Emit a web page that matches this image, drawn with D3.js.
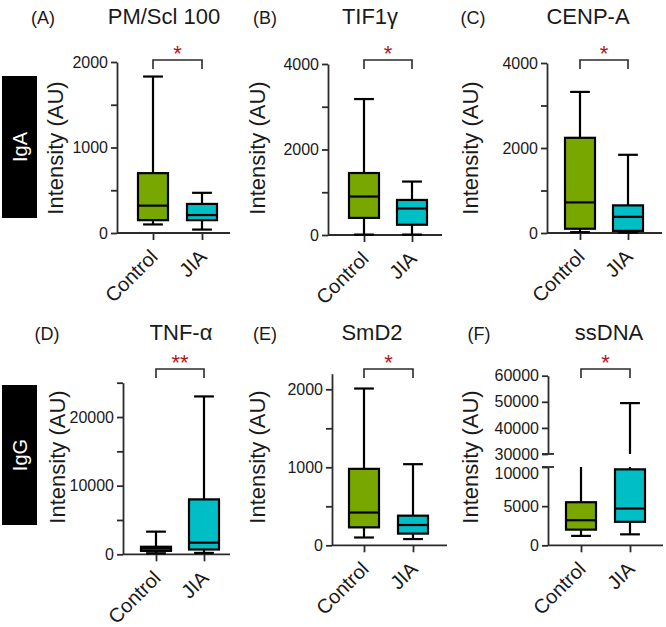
<!DOCTYPE html>
<html><head><meta charset="utf-8">
<script src="https://cdn.jsdelivr.net/npm/d3@7"></script>
<style>
body{margin:0;background:#fff}
svg{display:block}
text{font-family:"Liberation Sans",Arial,Helvetica,sans-serif}
</style>
</head><body>
<svg id="c" width="666" height="627"></svg>
<script>
// ---------------- DATA ----------------
const titles = ["PM/Scl 100", "TIF1γ", "CENP-A", "TNF-α", "SmD2", "ssDNA"];
const panelLetters = ["(A)", "(B)", "(C)", "(D)", "(E)", "(F)"];
const isotypes = ["IgA", "IgG"];
const categories = ["Control", "JIA"];
const yAxisTitle = "Intensity (AU)";
// [min, q1, median, q3, max]
const controlStats = [
  [100, 150, 320, 700, 1830],
  [10, 400, 900, 1450, 3180],
  [20, 100, 720, 2240, 3320],
  [150, 500, 850, 1100, 3300],
  [100, 230, 420, 980, 2010],
  [1200, 2000, 3200, 5500, 12000]
];
const jiaStats = [
  [40, 150, 210, 340, 470],
  [10, 240, 620, 820, 1250],
  [10, 50, 380, 650, 1840],
  [200, 700, 1700, 8000, 23000],
  [80, 150, 260, 380, 1040],
  [1400, 3000, 4700, 9700, 49500]
];
const significance = ["*", "*", "*", "**", "*", "*"];
const yDomainMax = [2000, 4000, 4000, 25000, 2200, 60000];
const majorTicks = [
  [0, 1000, 2000],
  [0, 2000, 4000],
  [0, 2000, 4000],
  [0, 10000, 20000],
  [0, 1000, 2000],
  [0, 5000, 10000, 30000, 40000, 50000, 60000]
];
const minorTicks = [
  [500, 1500],
  [1000, 3000],
  [1000, 3000],
  [5000, 15000, 25000],
  [500, 1500],
  []
];
const brokenLowerDomain = [0, 10000];
const brokenUpperDomain = [30000, 60000];

// ---------------- LAYOUT ----------------
const layout = [
  {ax:117, top:62,    bot:233,   c:[153,202], xEnd:230, tx:164, lx:43,  yx:57},
  {ax:328, top:64,    bot:235,   c:[364,412], xEnd:442, tx:370, lx:265, yx:259},
  {ax:547, top:63,    bot:233,   c:[580,628], xEnd:662, tx:588, lx:473, yx:472},
  {ax:123, top:382.7, bot:554.3, c:[156,204], xEnd:230, tx:181, lx:47,  yx:59},
  {ax:332, top:373.7, bot:545.3, c:[364,413], xEnd:447, tx:372, lx:265, yx:259},
  {ax:548, top:375.7, bot:545.3, c:[581,630], xEnd:663, tx:609, lx:479, yx:472}
];
const rowTitleY = [24, 340];
const rowStarY = [48, 357];
const rowBracketY = [60, 369];
const rowYLabelY = [148, 457];
const badges = [{y0:76, y1:218}, {y0:385, y1:525}];
const boxColors = ["#78a800", "#00bec6"];
const axisColor = "#2b2b2b";
const textColor = "#1a1a1a";
const starColor = "#b3141c";
const boxW = 30;

const svg = d3.select("#c");

// Isotype badges
isotypes.forEach((t, i) => {
  const b = badges[i];
  svg.append("rect").attr("x", 2).attr("y", b.y0).attr("width", 35).attr("height", b.y1 - b.y0).attr("fill", "#000");
  svg.append("text")
    .attr("transform", `translate(${2 + 35/2},${(b.y0 + b.y1)/2}) rotate(-90)`)
    .attr("y", 7).attr("text-anchor", "middle")
    .attr("fill", "#fff").attr("font-size", 20).text(t);
});

function styleAxis(g) {
  g.selectAll("path.domain").attr("stroke", axisColor).attr("stroke-width", 1.8);
  g.selectAll(".tick line").attr("stroke", axisColor).attr("stroke-width", 1.8);
  g.selectAll(".tick text").attr("fill", textColor).attr("font-size", 16)
    .attr("font-family", '"Liberation Sans",Arial,sans-serif');
}

titles.forEach((title, i) => {
  const L = layout[i];
  const row = i < 3 ? 0 : 1;
  const g = svg.append("g");
  const x = d3.scalePoint().domain(categories).range(L.c);

  // y mapping (piecewise for broken axis)
  let segs;
  if (i === 5) {
    const yLow = d3.scaleLinear().domain(brokenLowerDomain).range([L.bot, 467]);
    const yHigh = d3.scaleLinear().domain(brokenUpperDomain).range([454, L.top]);
    segs = [yLow, yHigh];
  } else {
    segs = [d3.scaleLinear().domain([0, yDomainMax[i]]).range([L.bot, L.top])];
  }

  // y axes
  segs.forEach((s, si) => {
    const [d0, d1] = s.domain();
    const maj = majorTicks[i].filter(v => v >= d0 && v <= d1);
    const mino = minorTicks[i].filter(v => v >= d0 && v <= d1);
    const ag = g.append("g").attr("transform", `translate(${L.ax},0)`)
      .call(d3.axisLeft(s).tickValues(maj).tickSize(6).tickSizeOuter(0).tickPadding(3).tickFormat(d3.format("d")));
    styleAxis(ag);
    if (i === 5 && si === 0) {
      // top label of the lower segment sits a little below its break mark
      ag.selectAll(".tick").filter(d => d === brokenLowerDomain[1]).select("text").attr("dy", "0.72em");
    }
    if (mino.length) {
      const mg = g.append("g").attr("transform", `translate(${L.ax},0)`)
        .call(d3.axisLeft(s).tickValues(mino).tickSize(6).tickSizeOuter(0).tickFormat(""));
      styleAxis(mg);
      mg.select("path.domain").remove();
    }
  });
  if (i === 5) {
    // break marks
    [[segs[0], brokenLowerDomain[1]], [segs[1], brokenUpperDomain[0]]].forEach(([s, v]) => {
      g.append("line").attr("x1", L.ax - 6).attr("x2", L.ax + 6)
        .attr("y1", s(v)).attr("y2", s(v)).attr("stroke", axisColor).attr("stroke-width", 1.8);
    });
  }

  // x axis
  g.append("line").attr("x1", L.ax).attr("x2", L.xEnd).attr("y1", L.bot).attr("y2", L.bot)
    .attr("stroke", axisColor).attr("stroke-width", 1.8);
  const xg = g.append("g").attr("transform", `translate(0,${L.bot})`)
    .call(d3.axisBottom(x).tickSize(7).tickFormat(""));
  xg.select("path.domain").remove();
  xg.selectAll(".tick line").attr("stroke", axisColor).attr("stroke-width", 1.8);
  categories.forEach(cat => {
    g.append("text")
      .attr("transform", `translate(${x(cat) + 6},${L.bot + 25}) rotate(-45)`)
      .attr("text-anchor", "end").attr("font-size", 20).attr("fill", textColor).text(cat);
  });

  // boxes
  const stats = [controlStats[i], jiaStats[i]];
  stats.forEach((st, k) => {
    const cx = x(categories[k]);
    const [mn, q1, md, q3, mx] = st;
    const drawV = (a, b) => {
      segs.forEach(s => {
        const [d0, d1] = s.domain();
        const lo = Math.max(Math.min(a, b), d0), hi = Math.min(Math.max(a, b), d1);
        if (hi > lo) g.append("line").attr("x1", cx).attr("x2", cx).attr("y1", s(lo)).attr("y2", s(hi))
          .attr("stroke", "#000").attr("stroke-width", 2.2);
      });
    };
    const yOf = v => { for (const s of segs) { const [d0, d1] = s.domain(); if (v >= d0 && v <= d1) return s(v); } return null; };
    drawV(mn, q1);
    drawV(q3, mx);
    [mn, mx].forEach(v => {
      const yy = yOf(v);
      if (yy !== null) g.append("line").attr("x1", cx - boxW * 0.33).attr("x2", cx + boxW * 0.33)
        .attr("y1", yy).attr("y2", yy).attr("stroke", "#000").attr("stroke-width", 2.2);
    });
    const yq1 = yOf(q1), yq3 = yOf(q3), ymd = yOf(md);
    g.append("rect").attr("x", cx - boxW / 2).attr("y", yq3).attr("width", boxW).attr("height", yq1 - yq3)
      .attr("fill", boxColors[k]).attr("stroke", "#000").attr("stroke-width", 2.2);
    g.append("line").attr("x1", cx - boxW / 2).attr("x2", cx + boxW / 2).attr("y1", ymd).attr("y2", ymd)
      .attr("stroke", "#000").attr("stroke-width", 2.2);
  });

  // significance bracket
  const by = rowBracketY[row];
  const x0 = x(categories[0]), x1 = x(categories[1]);
  g.append("path").attr("d", `M${x0},${by + 9}V${by}H${x1}V${by + 9}`)
    .attr("fill", "none").attr("stroke", axisColor).attr("stroke-width", 1.6);
  g.append("text").attr("x", (x0 + x1) / 2).attr("y", rowStarY[row] + 12.5)
    .attr("text-anchor", "middle").attr("font-size", 22).attr("fill", starColor).text(significance[i]);

  // title, letter, y label
  g.append("text").attr("x", L.tx).attr("y", rowTitleY[row]).attr("text-anchor", "middle")
    .attr("font-size", 22).attr("fill", textColor).text(title);
  g.append("text").attr("x", L.lx).attr("y", rowTitleY[row]).attr("text-anchor", "middle")
    .attr("font-size", 18).attr("fill", textColor).text(panelLetters[i]);
  g.append("text").attr("transform", `translate(${L.yx},${rowYLabelY[row]}) rotate(-90)`)
    .attr("y", 6).attr("text-anchor", "middle").attr("font-size", 22).attr("fill", textColor).text(yAxisTitle);
});
</script>
</body></html>
